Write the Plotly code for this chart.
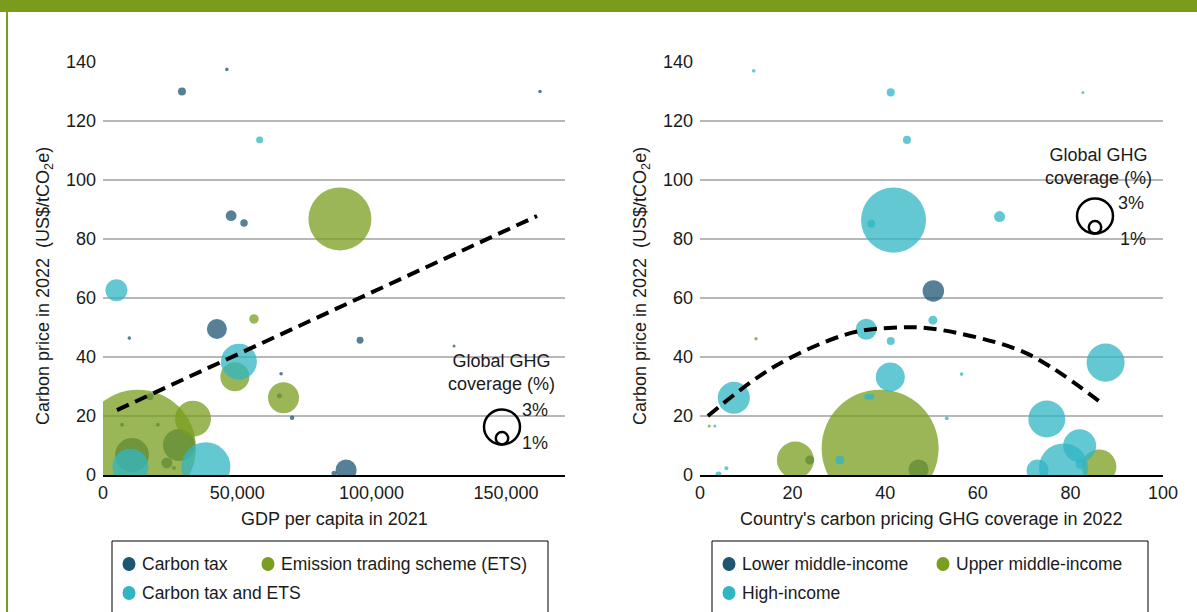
import plotly.graph_objects as go

# ---- left panel: GDP per capita 2021 (US$) vs carbon price 2022, bubble = global GHG coverage (%)
tax_gdp = [29400, 46100, 162700, 47700, 52500, 42400, 9800, 95700, 130700, 66300, 70400,
           90500, 86000, 28300, 7100, 20400, 17500, 10800, 23800, 26400, 65700]
tax_price = [130, 137.5, 130, 87.9, 85.4, 49.5, 46.4, 45.7, 43.7, 34.3, 19.4,
             1.7, 0.6, 10.2, 17, 17, 26.5, 6.8, 4.1, 2.4, 26.9]
tax_cov = [0.67, 0.3, 0.3, 0.9, 0.62, 1.67, 0.3, 0.58, 0.25, 0.3, 0.37,
           1.75, 0.42, 2.67, 0.33, 0.33, 0.58, 2.83, 0.92, 0.33, 0.42]

ets_gdp = [88200, 56200, 49100, 67200, 13000, 33500]
ets_price = [86.8, 52.9, 33.3, 26.2, 9.2, 19.1]
ets_cov = [5.25, 0.79, 2.42, 2.58, 9.67, 3.0]

both_gdp = [58300, 5000, 50600, 10200, 38300]
both_price = [113.6, 62.6, 38.4, 2.8, 2.8]
both_cov = [0.58, 1.83, 3.0, 3.0, 4.08]

gdp_trend_x = [5200, 161600]
gdp_trend_y = [22.0, 87.8]

# ---- right panel: country's carbon pricing GHG coverage (%) vs carbon price 2022
lmi_share = [50.4, 23.7, 47.2]
lmi_price = [62.4, 5.1, 1.9]
lmi_cov = [1.79, 0.75, 1.67]

umi_share = [38.9, 20.6, 86.2, 12.1, 2.0]
umi_price = [9.1, 5.1, 2.8, 46.2, 16.6]
umi_cov = [9.75, 3.08, 2.88, 0.3, 0.25]

hi_share = [11.6, 41.2, 82.7, 44.7, 41.8, 37.0, 64.7, 50.3, 35.9, 41.2, 41.1, 56.5, 87.6,
            7.3, 36.1, 37.0, 53.3, 74.9, 82.0, 78.5, 72.9, 82.2, 30.2, 3.2, 5.7, 4.0]
hi_price = [137, 129.7, 129.7, 113.6, 86.4, 85.2, 87.6, 52.5, 49.4, 45.4, 33.2, 34.2, 38.1,
            26.2, 26.5, 26.5, 19.2, 19.0, 9.9, 2.4, 1.5, 3.7, 5.1, 16.6, 2.3, 0.2]
hi_cov = [0.3, 0.67, 0.25, 0.67, 5.42, 0.67, 0.92, 0.75, 1.75, 0.67, 2.42, 0.3, 3.17,
          2.67, 0.5, 0.5, 0.33, 3.08, 2.75, 4.08, 1.83, 0.83, 0.75, 0.25, 0.33, 0.5]

share_trend_x = [1.7, 16.0, 32.3, 41.6, 50.2, 68.0, 75.7, 87.0]
share_trend_y = [20.0, 36.7, 48.0, 49.9, 49.6, 42.9, 36.7, 24.1]

DARK = "#1c5673"
GREEN = "#7a9e1f"
CYAN = "#30b6c3"
HEADER = "#7a9b1c"
FONT = "Liberation Sans, Arial, sans-serif"
FS = 18

W, H = 1197, 612
L, R, T, B = 103, 34, 62, 137
PW, PH = W - L - R, H - T - B


def px(x):
    return (x - L) / PW


def py(y):
    return (H - B - y) / PH


def bubbles(x, y, s, color, xa, ya):
    return go.Scatter(
        x=x, y=y, mode="markers", xaxis=xa, yaxis=ya, showlegend=False,
        marker=dict(size=s, sizemode="diameter", sizeref=1 / 12, color=color,
                    opacity=0.75, line=dict(width=0)),
        hoverinfo="skip"
    )


fig = go.Figure()

fig.add_trace(bubbles(tax_gdp, tax_price, tax_cov, DARK, "x", "y"))
fig.add_trace(bubbles(ets_gdp, ets_price, ets_cov, GREEN, "x", "y"))
fig.add_trace(bubbles(both_gdp, both_price, both_cov, CYAN, "x", "y"))
fig.add_trace(go.Scatter(x=gdp_trend_x, y=gdp_trend_y, mode="lines", xaxis="x", yaxis="y",
                         line=dict(color="black", width=4, dash="13px,7px"),
                         showlegend=False, hoverinfo="skip"))

fig.add_trace(bubbles(lmi_share, lmi_price, lmi_cov, DARK, "x2", "y2"))
fig.add_trace(bubbles(umi_share, umi_price, umi_cov, GREEN, "x2", "y2"))
fig.add_trace(bubbles(hi_share, hi_price, hi_cov, CYAN, "x2", "y2"))
fig.add_trace(go.Scatter(x=share_trend_x, y=share_trend_y, mode="lines", xaxis="x2", yaxis="y2",
                         line=dict(color="black", width=4, dash="13px,7px", shape="spline"),
                         showlegend=False, hoverinfo="skip"))

axis_common = dict(showline=True, linecolor="black", linewidth=2, showgrid=False,
                   zeroline=False, ticks="", tickfont=dict(size=FS, color="#1a1a1a"))
yaxis_common = dict(range=[0, 140], dtick=20, showgrid=True, gridcolor="#b8b8b8", gridwidth=1.5,
                    zeroline=False, showline=False, ticks="", ticklabelstandoff=6,
                    tickfont=dict(size=FS, color="#1a1a1a"))

shapes = []
annotations = []

# header band and left rule
shapes.append(dict(type="rect", xref="paper", yref="paper", x0=px(0), x1=px(W), y0=py(12), y1=py(0),
                   fillcolor=HEADER, line=dict(width=0), layer="above"))
shapes.append(dict(type="line", xref="paper", yref="paper", x0=px(7), x1=px(7), y0=py(12), y1=py(H),
                   line=dict(color=HEADER, width=2)))

# white boxes that interrupt the gridlines behind the size keys
for x0, y0, x1, y1 in [(440, 340, 566, 400), (471, 400, 566, 460),
                       (1031, 140, 1164, 198), (1067, 198, 1164, 255)]:
    shapes.append(dict(type="rect", xref="paper", yref="paper", x0=px(x0), x1=px(x1),
                       y0=py(y1), y1=py(y0), fillcolor="white", line=dict(width=0), layer="between"))

# size keys
for cx, cy, tx, ty, t3, t1 in [(502, 427, 501, 372, (535, 410), (535, 443)),
                               (1095, 216, 1098, 166, (1131, 203), (1133, 239))]:
    shapes.append(dict(type="circle", xref="paper", yref="paper", xsizemode="pixel", ysizemode="pixel",
                       xanchor=px(cx), yanchor=py(cy), x0=-18, x1=18, y0=-17.5, y1=17.5,
                       line=dict(color="black", width=2.5)))
    shapes.append(dict(type="circle", xref="paper", yref="paper", xsizemode="pixel", ysizemode="pixel",
                       xanchor=px(cx), yanchor=py(cy), x0=-6.2, x1=6.2, y0=-17.5, y1=-5.1,
                       line=dict(color="black", width=2.5)))
    annotations.append(dict(text="Global GHG<br>coverage (%)", x=px(tx), y=py(ty), xref="paper", yref="paper",
                            showarrow=False, xanchor="center", yanchor="middle", font=dict(size=FS)))
    annotations.append(dict(text="3%", x=px(t3[0]), y=py(t3[1]), xref="paper", yref="paper",
                            showarrow=False, xanchor="center", yanchor="middle", font=dict(size=FS)))
    annotations.append(dict(text="1%", x=px(t1[0]), y=py(t1[1]), xref="paper", yref="paper",
                            showarrow=False, xanchor="center", yanchor="middle", font=dict(size=FS)))

# axis titles
ytitle = "Carbon price in 2022\u00a0 (US$/tCO<sub>2</sub>e)"
for x in (44, 641):
    annotations.append(dict(text=ytitle, x=px(x), y=py(286), xref="paper", yref="paper", textangle=-90,
                            showarrow=False, xanchor="center", yanchor="middle", font=dict(size=FS)))
annotations.append(dict(text="GDP per capita in 2021", x=px(334), y=py(519), xref="paper", yref="paper",
                        showarrow=False, xanchor="center", yanchor="middle", font=dict(size=FS)))
annotations.append(dict(text="Country's carbon pricing GHG coverage in 2022", x=px(931), y=py(519),
                        xref="paper", yref="paper", showarrow=False, xanchor="center", yanchor="middle",
                        font=dict(size=FS)))

# legends (drawn by hand to get the two-row layout)
legend_items = [
    (112, 548, [(129, 564, DARK, "Carbon tax"), (268, 564, GREEN, "Emission trading scheme (ETS)"),
                (129, 593, CYAN, "Carbon tax and ETS")]),
    (712, 1148, [(729, 564, DARK, "Lower middle-income"), (943, 564, GREEN, "Upper middle-income"),
                 (729, 593, CYAN, "High-income")]),
]
for bx0, bx1, items in legend_items:
    shapes.append(dict(type="rect", xref="paper", yref="paper", x0=px(bx0), x1=px(bx1),
                       y0=py(625), y1=py(541), line=dict(color="black", width=1), fillcolor="rgba(0,0,0,0)"))
    for mx, my, col, label in items:
        shapes.append(dict(type="circle", xref="paper", yref="paper", xsizemode="pixel", ysizemode="pixel",
                           xanchor=px(mx), yanchor=py(my), x0=-6.5, x1=6.5, y0=-7, y1=7,
                           fillcolor=col, line=dict(width=0)))
        annotations.append(dict(text=label, x=px(mx + 11), y=py(my), xref="paper", yref="paper",
                                showarrow=False, xanchor="left", yanchor="middle", font=dict(size=17.5)))

fig.update_layout(
    width=W, height=H,
    margin=dict(l=L, r=R, t=T, b=B, autoexpand=False),
    paper_bgcolor="white", plot_bgcolor="white",
    font=dict(family=FONT, color="#1a1a1a", size=FS),
    showlegend=False,
    xaxis=dict(domain=[0, px(565)], range=[0, 172000], tickvals=[0, 50000, 100000, 150000],
               tickformat=",d", **axis_common),
    yaxis=dict(anchor="x", **yaxis_common),
    xaxis2=dict(domain=[px(700), 1], range=[0, 100], dtick=20, anchor="y2", **axis_common),
    yaxis2=dict(anchor="x2", **yaxis_common),
    shapes=shapes,
    annotations=annotations,
)

fig.write_html("out.html", config={"displayModeBar": False},
               post_script="document.body.style.margin='0';document.body.style.overflow='hidden';")
